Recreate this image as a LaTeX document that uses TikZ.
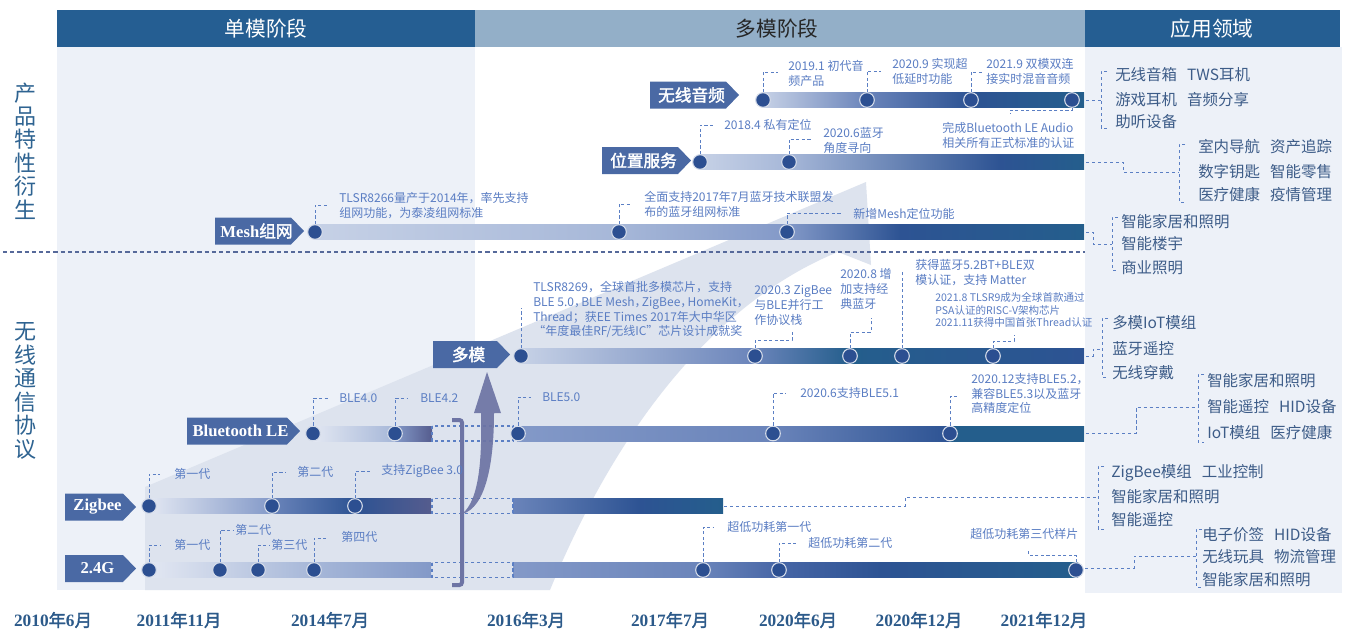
\documentclass[tikz,border=0pt]{standalone}
\usepackage{fontspec}
\setmainfont{Liberation Serif}
\newfontfamily\cjk{Noto Sans CJK SC}[AutoFakeBold=2]
\usetikzlibrary{calc}
\definecolor{hdark}{HTML}{255E92}
\definecolor{hmid}{HTML}{93AFC8}
\definecolor{panel}{HTML}{EDF1F8}
\definecolor{arrowbg}{HTML}{DDE3EE}
\definecolor{dotc}{HTML}{2C4F91}
\definecolor{anno}{HTML}{5A7DC3}
\definecolor{apptext}{HTML}{3D5C88}
\definecolor{lblbox}{HTML}{4A69A4}
\definecolor{vlabel}{HTML}{2E6391}
\definecolor{yearc}{HTML}{2C5A8A}
\definecolor{uparrow}{HTML}{6D74A4}
\definecolor{sepc}{HTML}{56699A}
\definecolor{leadc}{HTML}{5B7FC4}
\definecolor{g0}{HTML}{E2E7F2}
\definecolor{g1}{HTML}{C6D1E6}
\definecolor{g2}{HTML}{A6B7D8}
\definecolor{g3}{HTML}{8399C8}
\definecolor{g4}{HTML}{6A84BA}
\definecolor{g5}{HTML}{4766A6}
\definecolor{g6}{HTML}{2D5393}
\definecolor{g7}{HTML}{245E8C}
\definecolor{gp}{HTML}{555C8E}
\tikzset{
  dot/.style={circle, fill=dotc, draw=white!80!dotc, line width=0.8pt, minimum size=11pt, inner sep=0pt},
  leader/.style={draw=leadc, line width=0.75pt, dash pattern=on 2.4pt off 1.8pt},
  annot/.style={font=\cjk\fontsize{9}{11.2}\selectfont, text=anno, inner sep=0pt, anchor=west, align=left},
  smallannot/.style={annot, font=\cjk\fontsize{7.9}{9.7}\selectfont},
  app/.style={font=\cjk\fontsize{11.6}{13}\selectfont, text=apptext, inner sep=0pt, anchor=west},
  appline/.style={draw=leadc, line width=0.75pt, dash pattern=on 2.6pt off 1.9pt},
  rowtxt/.style={text=white, inner sep=0pt, font=\bfseries\fontsize{12.5}{12.5}\selectfont},
  yearlbl/.style={font=\bfseries\fontsize{13}{13}\selectfont, text=yearc, inner sep=0pt},
  gapbox/.style={draw=leadc, line width=0.8pt, dash pattern=on 2.6pt off 1.9pt},
  hdr/.style={font=\cjk\fontsize{15.5}{15.5}\selectfont, inner sep=0pt},
  vlbl/.style={font=\cjk\fontsize{16.5}{17.6}\selectfont, text=vlabel, align=center, inner sep=0pt},
  sep/.style={draw=sepc, line width=1pt, dash pattern=on 3.2pt off 2.2pt},
}
\newcommand\seg[5]{\shade[left color=#4, right color=#5] (#1,#3-7.5) rectangle (#2,#3+7.5);}
\newcommand\rowlabel[5]{%
  \fill[lblbox] (#2,#4-13.5) -- (#3-13,#4-13.5) -- (#3,#4) -- (#3-13,#4+13.5) -- (#2,#4+13.5) -- cycle;
  \node[rowtxt] (#1) at ({(#2+#3-6)/2},#4) {#5};}
\newcommand\yr[2]{#1{\cjk\bfseries 年}#2{\cjk\bfseries 月}}
\newcommand\cj[1]{{\cjk\bfseries #1}}
\newcommand\nc{，\kern-0.4em}
\newcommand\appbr[3]{\draw[appline] (#1+6,#2) -- (#1,#2) -- (#1,#3) -- (#1+6,#3);}
\begin{document}
\begin{tikzpicture}[x=0.75pt,y=-0.75pt]
\useasboundingbox (0,0) rectangle (1347,629);
\fill[white] (0,0) rectangle (1347,629);
% panels
\fill[panel] (57,47) rectangle (475,590);
\fill[panel] (1085,47) rectangle (1342,593);
% big background arrow
\fill[arrowbg] (145,590) -- (145,487) -- (866,182) -- (871,265) -- (838,252)
  .. controls (720,300) and (620,420) .. (550,590) -- cycle;
% headers
\fill[hdark] (57,10) rectangle (475,47);
\fill[hmid] (475,10) rectangle (1085,47);
\fill[hdark] (1085,10) rectangle (1340,47);
\node[hdr, text=white] (h1) at (266,29) {单模阶段};
\node[hdr, text=black!85] (h2) at (777,29) {多模阶段};
\node[hdr, text=white] (h3) at (1212,29) {应用领域};
% separator
\draw[sep] (3,252) -- (1085,252);
% vertical labels
\node[vlbl] (v1) at (25,151) {产\\品\\特\\性\\衍\\生};
\node[vlbl] (v2) at (25,391) {无\\线\\通\\信\\协\\议};
% bars
\seg{763}{867.5}{100}{g1}{g4}\seg{867}{971.5}{100}{g4}{g6}\seg{971}{1084}{100}{g6}{g7}
\seg{700}{789.5}{162}{g1}{g2}\seg{789}{1000.5}{162}{g2}{g6}\seg{1000}{1084}{162}{g6}{g7}
\seg{315}{619.5}{232}{g1}{g2}\seg{619}{787.5}{232}{g2}{g3}\seg{787}{900.5}{232}{g3}{g6}\seg{900}{1084}{232}{g6}{g7}
\seg{521}{755.5}{356}{g1}{g4}\seg{755}{850.5}{356}{g4}{g7}\seg{850}{1084}{356}{g7}{g6}
\seg{313}{395.5}{433.5}{g0}{g2}\seg{395}{432}{433.5}{g3}{gp}
\seg{517}{773.5}{433.5}{g3}{g4}\seg{773}{950.5}{433.5}{g4}{g6}\seg{950}{1084}{433.5}{g7}{g7}
\seg{149}{272.5}{506}{g0}{g3}\seg{272}{355.5}{506}{g4}{g6}\seg{355}{431}{506}{g6}{gp}
\seg{513}{640.5}{506}{g4}{g6}\seg{640}{723}{506}{g6}{g7}
\seg{149}{314.5}{570}{g0}{g2}\seg{314}{431}{570}{g2}{g3}
\seg{513}{703.5}{570}{g3}{g4}\seg{703}{779.5}{570}{g4}{g5}\seg{779}{880.5}{570}{g5}{g6}\seg{880}{1078}{570}{g6}{g7}
% gap boxes
\draw[gapbox] (432,426) rectangle (513,441);
\draw[gapbox] (432,498.5) rectangle (513,513.5);
\draw[gapbox] (432,562.5) rectangle (513,577.5);
% bracket and up arrow
\draw[uparrow, line width=3pt, rounded corners=2pt] (452,420) -- (462,420) -- (462,585) -- (452,585);
\fill[uparrow, opacity=0.92] (462,514) .. controls (480,500) and (482,455) .. (481,413) -- (474,413)
  -- (487,372) -- (501,413) -- (494,413) .. controls (494,462) and (486,508) .. (462,514) -- cycle;
% row labels
\rowlabel{lAudio}{650}{739}{95}{\cj{无线音频}}
\rowlabel{lLoc}{602}{691}{160.5}{\cj{位置服务}}
\rowlabel{lMesh}{215}{304}{231}{Mesh\cj{组网}}
\rowlabel{lMulti}{433}{510}{354.5}{\cj{多模}}
\rowlabel{lBLE}{187}{300}{431}{Bluetooth LE}
\rowlabel{lZig}{65}{136}{507}{Zigbee}
\rowlabel{lG}{65}{136}{568.5}{2.4G}
% dots
\foreach \n/\x/\y in {a1/763/100,a2/867/100,a3/971/100,a4/1072/100,
  p1/700/162,p2/789/162,m1/315/232,m2/619/232,m3/787/232,
  d1/521/356,d2/755/356,d3/850/356,d4/902/356,d5/993/356,
  b1/313/433.5,b2/395/433.5,b3/518/433.5,b4/773/433.5,b5/950/433.5,
  z1/149/506,z2/272/506,z3/355/506,
  g1/149/570,g2/220/570,g3/258/570,g4/314/570,g5/703/570,g6/779/570,g7/1076/570}
  {\node[dot] (\n) at (\x,\y) {};}
% leaders
\draw[leader] (m1) |- (328,205);
\draw[leader] (m2) |- (632,204);
\draw[leader] (m3) |- (842,213);
\draw[leader] (p1) |- (713,125);
\draw[leader] (p2) |- (812,139);
\draw[leader] (a1) |- (778,72);
\draw[leader] (a2) |- (881,71);
\draw[leader] (a3) |- (982,72);
\draw[leader] (a4) |- (1010,110) -- (1010,114);
\draw[leader] (d1) -- (521,308);
\draw[leader] (d2) |- (792,340) -- (792,332);
\draw[leader] (d3) |- (871,332) -- (871,318);
\draw[leader] (d4) -- (902,272);
\draw[leader] (d5) |- (1014,341) -- (1014,335);
\draw[leader] (b1) |- (328,398);
\draw[leader] (b2) |- (408,398);
\draw[leader] (b3) |- (531,397);
\draw[leader] (b4) |- (786,393);
\draw[leader] (b5) |- (958,396);
\draw[leader] (z1) |- (160,474);
\draw[leader] (z2) |- (286,472);
\draw[leader] (z3) |- (370,471);
\draw[leader] (g1) |- (160,545);
\draw[leader] (g2) |- (234,530);
\draw[leader] (g3) |- (270,545);
\draw[leader] (g4) |- (326,538);
\draw[leader] (g5) |- (713,527);
\draw[leader] (g6) |- (796,543);
\draw[leader] (g7) |- (1028,555) -- (1028,551);
% annotations
\node[annot] (m1t) at (339,206) {TLSR8266量产于2014年，率先支持\\组网功能，为泰凌组网标准};
\node[annot] (m2t) at (644,204.5) {全面支持2017年7月蓝牙技术联盟发\\布的蓝牙组网标准};
\node[annot] (m3t) at (853,214) {新增Mesh定位功能};
\node[annot] (p1t) at (724,125) {2018.4 私有定位};
\node[annot] (p2t) at (823,140.5) {2020.6蓝牙\\角度寻向};
\node[annot] (a1t) at (788,73) {2019.1 初代音\\频产品};
\node[annot] (a2t) at (892,71) {2020.9 实现超\\低延时功能};
\node[annot] (a3t) at (986,71) {2021.9 双模双连\\接实时混音音频};
\node[annot] (a4t) at (942,135.5) {完成Bluetooth LE Audio\\相关所有正式标准的认证};
\node[annot] (d1t) at (533,309.5) {TLSR8269，全球首批多模芯片，支持\\BLE 5.0\nc BLE Mesh\nc ZigBee\nc HomeKit\nc\\Thread；获EE Times 2017年大中华区\\“年度最佳RF/无线IC”芯片设计成就奖};
\node[annot] (d2t) at (754,305.5) {2020.3 ZigBee\\与BLE并行工\\作协议栈};
\node[annot] (d3t) at (840,288.5) {2020.8 增\\加支持经\\典蓝牙};
\node[annot] (d4t) at (915,273) {获得蓝牙5.2BT+BLE双\\模认证，支持 Matter};
\node[smallannot] (d5t) at (935,310) {2021.8 TLSR9成为全球首款通过\\PSA认证的RISC-V架构芯片\\2021.11获得中国首张Thread认证};
\node[annot] (b1t) at (339,398) {BLE4.0};
\node[annot] (b2t) at (420,398) {BLE4.2};
\node[annot] (b3t) at (542,397) {BLE5.0};
\node[annot] (b4t) at (800,393) {2020.6支持BLE5.1};
\node[annot] (b5t) at (971,393.5) {2020.12支持BLE5.2，\\兼容BLE5.3以及蓝牙\\高精度定位};
\node[annot] (z1t) at (174,474) {第一代};
\node[annot] (z2t) at (297,472) {第二代};
\node[annot] (z3t) at (381,471) {支持ZigBee 3.0};
\node[annot] (g1t) at (174,545) {第一代};
\node[annot] (g2t) at (235,530) {第二代};
\node[annot] (g3t) at (271,545) {第三代};
\node[annot] (g4t) at (341,537) {第四代};
\node[annot] (g5t) at (727,527) {超低功耗第一代};
\node[annot] (g6t) at (808,543) {超低功耗第二代};
\node[annot] (g7t) at (970,534) {超低功耗第三代样片};
% bar end coordinates
\coordinate (eA) at (1086,100);
\coordinate (eL) at (1086,162);
\coordinate (eM) at (1086,232);
\coordinate (eD) at (1086,356);
\coordinate (eB) at (1086,433.5);
\coordinate (eZ) at (724,506);
\coordinate (eG) at (1085,568);
% application connectors
\draw[appline] (eA) -- (1101,100);
\appbr{1101}{71}{128}
\draw[appline] (eL) -- (1123,162) -- (1123,172) -- (1179,172);
\appbr{1179}{144}{202}
\draw[appline] (eM) -- (1093,232) -- (1093,244) -- (1112,244);
\appbr{1112}{217}{270}
\draw[appline] (eD) -- (1093,356) -- (1093,349) -- (1102,349);
\appbr{1102}{318}{377}
\draw[appline] (eB) -- (1136,433.5) -- (1136,407) -- (1198,407);
\appbr{1198}{374}{442}
\draw[appline] (eZ) -- (905,506) -- (905,497) -- (1098,497);
\appbr{1098}{466}{529}
\draw[appline] (eG) -- (1134,568) -- (1134,556) -- (1196,556);
\appbr{1196}{529}{587}
% application texts
\node[app] (t11) at (1115,75) {无线音箱\hspace{0.65em}TWS耳机};
\node[app] (t12) at (1115,100) {游戏耳机\hspace{0.65em}音频分享};
\node[app] (t13) at (1115,122) {助听设备};
\node[app] (t21) at (1198,147) {室内导航\hspace{0.65em}资产追踪};
\node[app] (t22) at (1198,172) {数字钥匙\hspace{0.65em}智能零售};
\node[app] (t23) at (1198,195) {医疗健康\hspace{0.65em}疫情管理};
\node[app] (t31) at (1121,222) {智能家居和照明};
\node[app] (t32) at (1121,244) {智能楼宇};
\node[app] (t33) at (1121,268) {商业照明};
\node[app] (t41) at (1112,323) {多模IoT模组};
\node[app] (t42) at (1112,349) {蓝牙遥控};
\node[app] (t43) at (1112,373) {无线穿戴};
\node[app] (t51) at (1207,381) {智能家居和照明};
\node[app] (t52) at (1207,407) {智能遥控\hspace{0.65em}HID设备};
\node[app] (t53) at (1207,433) {IoT模组\hspace{0.65em}医疗健康};
\node[app] (t61) at (1111,473) {ZigBee模组\hspace{0.65em}工业控制};
\node[app] (t62) at (1111,497) {智能家居和照明};
\node[app] (t63) at (1111,520) {智能遥控};
\node[app] (t71) at (1202,535) {电子价签\hspace{0.65em}HID设备};
\node[app] (t72) at (1202,557) {无线玩具\hspace{0.65em}物流管理};
\node[app] (t73) at (1202,580) {智能家居和照明};
% years
\node[yearlbl] (y1) at (53,620) {\yr{2010}{6}};
\node[yearlbl] (y2) at (179,620) {\yr{2011}{11}};
\node[yearlbl] (y3) at (330,620) {\yr{2014}{7}};
\node[yearlbl] (y4) at (526,620) {\yr{2016}{3}};
\node[yearlbl] (y5) at (670,620) {\yr{2017}{7}};
\node[yearlbl] (y6) at (798,620) {\yr{2020}{6}};
\node[yearlbl] (y7) at (919,620) {\yr{2020}{12}};
\node[yearlbl] (y8) at (1044,620) {\yr{2021}{12}};
\end{tikzpicture}
\end{document}
